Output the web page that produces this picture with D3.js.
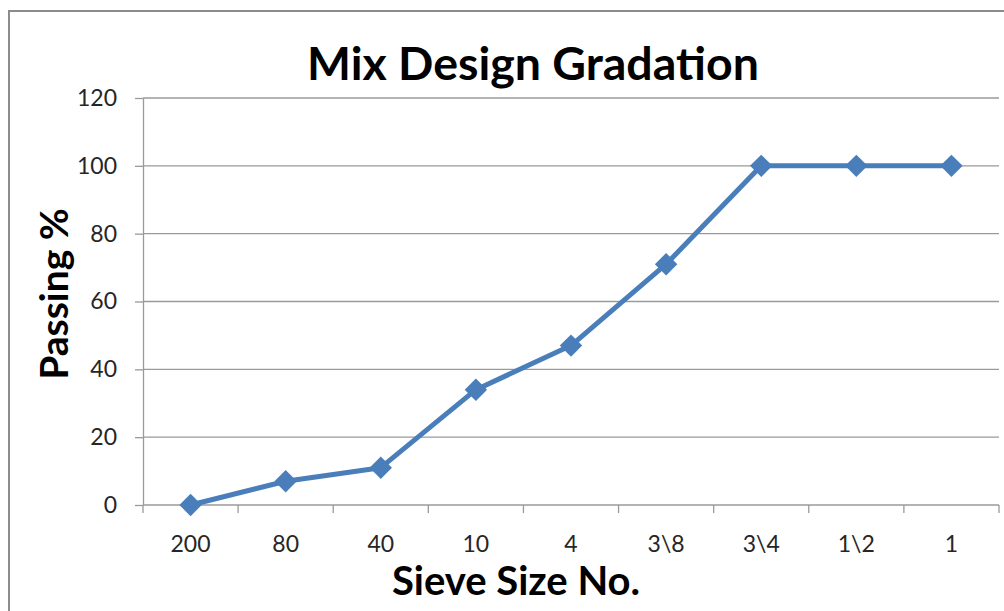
<!DOCTYPE html>
<html>
<head>
<meta charset="utf-8">
<script src="https://cdn.jsdelivr.net/npm/d3@7"></script>
<style>
  html, body { margin: 0; padding: 0; background: #fff; }
  svg { display: block; }
  text { font-family: Lato, "Open Sans", sans-serif; }
</style>
</head>
<body>
<svg id="chart" width="1004" height="611"></svg>
<script>
// Sieve sizes (finest to coarsest) and percent passing
const sieves = ["200", "80", "40", "10", "4", "3\\8", "3\\4", "1\\2", "1"];
const passing = [0, 7, 11, 34, 47, 71, 100, 100, 100];
const yTicks = [0, 20, 40, 60, 80, 100, 120];

const svg = d3.select("#chart");
const W = 1004, H = 611;
const margin = { left: 143, right: 5, top: 98, bottom: 106 };
const axisColor = "#9a9a9a";

// outer chart frame
svg.append("rect")
  .attr("x", 9).attr("y", 11)
  .attr("width", W + 10).attr("height", H + 10)
  .attr("fill", "#fff")
  .attr("stroke", "#8c8c8c").attr("stroke-width", 2);

const x = d3.scaleBand().domain(sieves).range([margin.left, W - margin.right]);
const y = d3.scaleLinear().domain([0, 120]).range([H - margin.bottom, margin.top]);

// horizontal gridlines
svg.append("g").selectAll("line")
  .data(yTicks.filter(d => d > 0))
  .join("line")
  .attr("x1", margin.left).attr("x2", W - margin.right)
  .attr("y1", d => y(d)).attr("y2", d => y(d))
  .attr("stroke", axisColor).attr("stroke-width", 1.3);

// y axis
const yAxis = svg.append("g")
  .attr("transform", `translate(${margin.left},0)`)
  .call(d3.axisLeft(y).tickValues(yTicks).tickSize(8).tickPadding(18).tickSizeOuter(0));
yAxis.select(".domain").attr("stroke", axisColor).attr("stroke-width", 1.3);
yAxis.selectAll(".tick line").attr("stroke", axisColor).attr("stroke-width", 1.3);
yAxis.selectAll(".tick text")
  .attr("font-size", 23).attr("fill", "#262626").attr("font-family", "Lato, sans-serif");

// x axis with tick marks between categories
const xAxis = svg.append("g")
  .attr("transform", `translate(0,${y(0)})`);
xAxis.append("line")
  .attr("x1", margin.left).attr("x2", W - margin.right)
  .attr("stroke", axisColor).attr("stroke-width", 1.3);
const bounds = sieves.map(s => x(s)).concat([x(sieves[sieves.length - 1]) + x.bandwidth()]);
xAxis.selectAll("line.tk").data(bounds).join("line")
  .attr("class", "tk")
  .attr("x1", d => d).attr("x2", d => d)
  .attr("y1", 0).attr("y2", 8)
  .attr("stroke", axisColor).attr("stroke-width", 1.3);
xAxis.selectAll("text.lbl").data(sieves).join("text")
  .attr("class", "lbl")
  .attr("x", d => x(d) + x.bandwidth() / 2)
  .attr("y", 47)
  .attr("text-anchor", "middle")
  .attr("font-size", 23).attr("fill", "#262626")
  .text(d => d);

// series line and diamond markers
const cx = s => x(s) + x.bandwidth() / 2;
const line = d3.line().x((d, i) => cx(sieves[i])).y(d => y(d));
svg.append("path")
  .datum(passing)
  .attr("d", line)
  .attr("fill", "none")
  .attr("stroke", "#4a7ebb").attr("stroke-width", 5)
  .attr("stroke-linejoin", "round");

svg.append("g").selectAll("path.mk")
  .data(passing)
  .join("path")
  .attr("class", "mk")
  .attr("d", d3.symbol().type(d3.symbolDiamond2).size(320))
  .attr("transform", (d, i) => `translate(${cx(sieves[i])},${y(d)})`)
  .attr("fill", "#4a7ebb");

// titles
svg.append("text")
  .attr("x", 533).attr("y", 80)
  .attr("text-anchor", "middle")
  .attr("font-size", 46.5).attr("font-weight", "bold").attr("fill", "#000")
  .text("Mix Design Gradation");

svg.append("text")
  .attr("transform", "translate(68,294) rotate(-90)")
  .attr("text-anchor", "middle")
  .attr("font-size", 39).attr("font-weight", "bold").attr("fill", "#000")
  .text("Passing %");

svg.append("text")
  .attr("x", 516).attr("y", 595)
  .attr("text-anchor", "middle")
  .attr("font-size", 40).attr("font-weight", "bold").attr("fill", "#000")
  .text("Sieve Size No.");
</script>
</body>
</html>
